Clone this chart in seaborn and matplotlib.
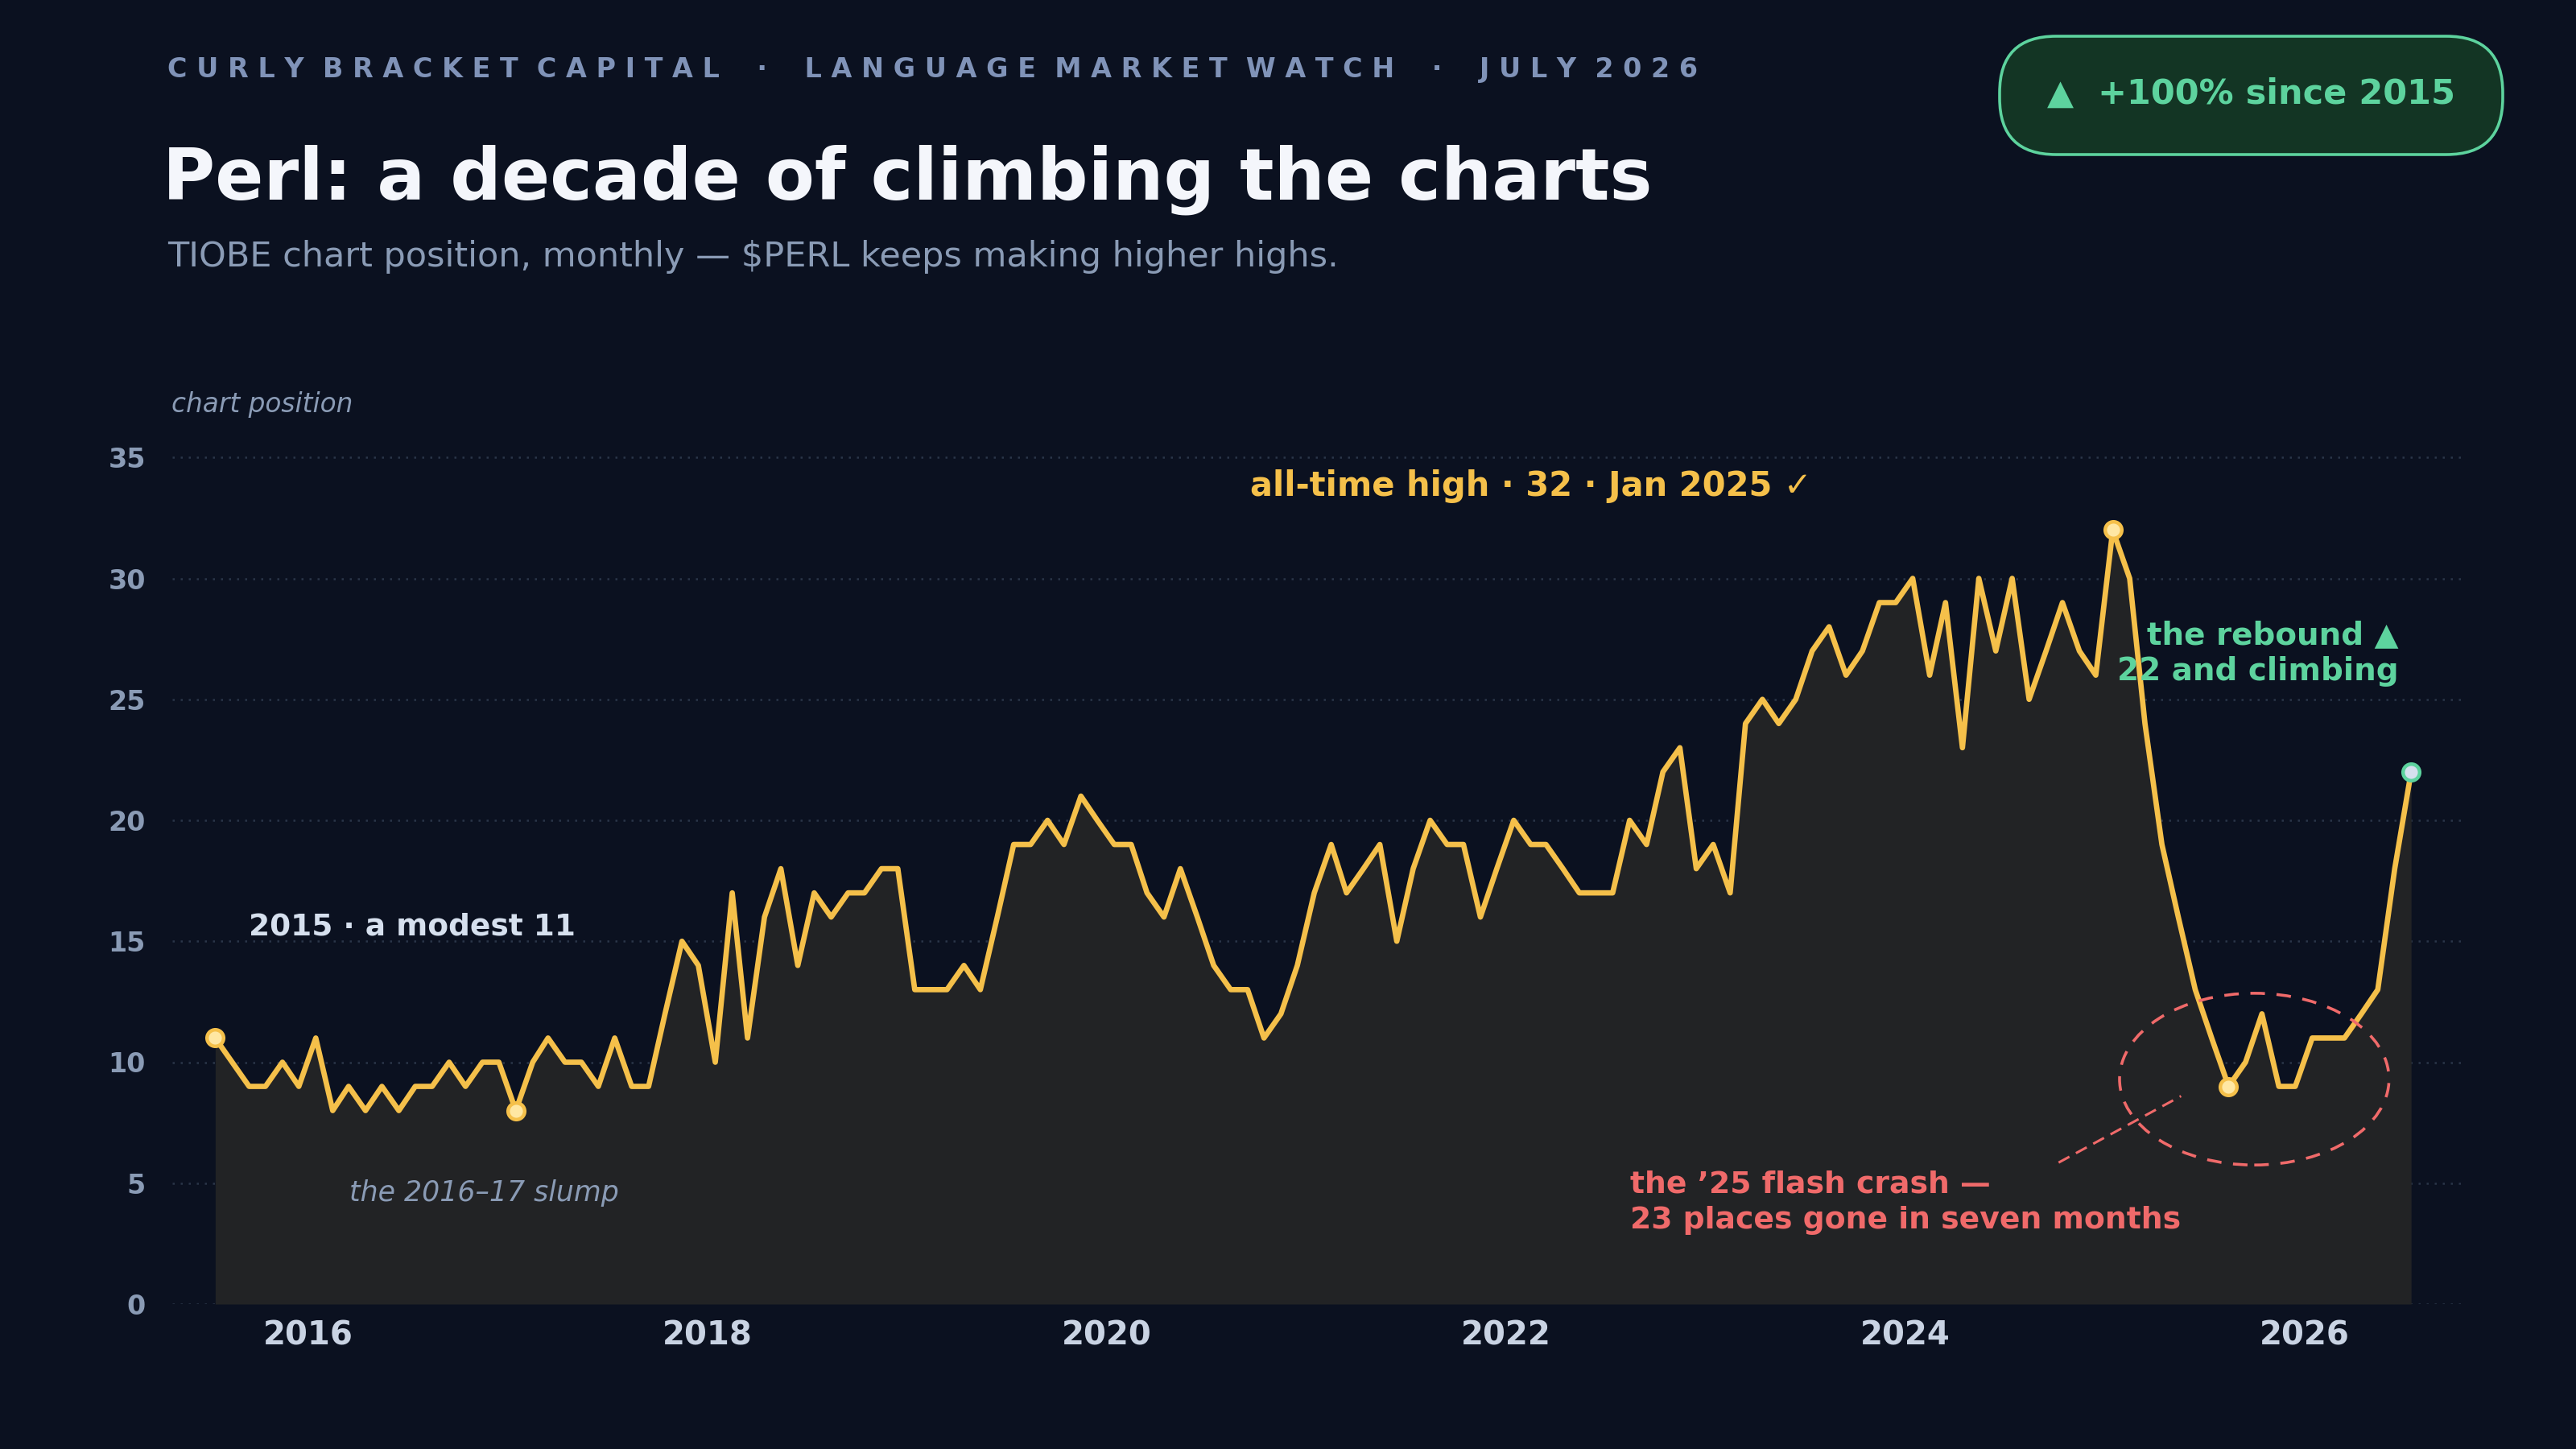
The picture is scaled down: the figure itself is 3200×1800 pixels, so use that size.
import numpy as np
import pandas as pd
import matplotlib
matplotlib.use("Agg")
import matplotlib.pyplot as plt
import matplotlib.dates as mdates
from matplotlib.patches import Ellipse, FancyBboxPatch
import seaborn as sns

positions = [11,10,9,9,10,9,11,8,9,8,9,8,9,9,10,9,10,10,8,10,11,10,10,9,11,9,9,12,15,14,
             10,17,11,16,18,14,17,16,17,17,18,18,
             13,13,13,14,13,16,19,19,20,19,21,20,19,19,17,16,18,16,14,13,13,11,12,14,17,19,17,18,19,15,
             18,20,19,19,16,18,20,19,19,18,17,17,
             17,20,19,22,23,18,19,17,24,25,24,25,27,28,26,27,29,29,30,26,29,23,30,27,30,25,27,29,27,26,
             32,30,24,19,16,13,11,9,10,12,9,9,11,11,11,12,13,18,22]
start_month = "2015-07-01"
months = pd.date_range(start_month, periods=len(positions), freq="MS") + pd.Timedelta(days=14)
df = pd.DataFrame({"month": months, "position": positions})

highlight_idx = [0, 18, 114, 121]
yticks = [0, 5, 10, 15, 20, 25, 30, 35]
xtick_years = [2016, 2018, 2020, 2022, 2024, 2026]

BG = "#0b1120"
GOLD = "#f5c04a"
GREEN = "#5dd39e"
RED = "#f06a6a"
MUTED = "#8a9bb5"

sns.set_theme(style="dark")
plt.rcParams["font.family"] = ["DejaVu Sans"]

fig = plt.figure(figsize=(16, 9), dpi=200, facecolor=BG)
ax = fig.add_axes([0.067, 0.100, 0.890, 0.601])
ax.set_facecolor(BG)

ax.fill_between(df["month"], df["position"], 0, color="#222325", zorder=1, linewidth=0)
sns.lineplot(data=df, x="month", y="position", ax=ax, color=GOLD, linewidth=2.4, zorder=3)

hl = df.iloc[highlight_idx]
ax.scatter(hl["month"], hl["position"], s=55, facecolor="#ffe7a3", edgecolor=GOLD, linewidth=1.6, zorder=5)
ax.scatter(df["month"].iloc[-1:], df["position"].iloc[-1:], s=55, facecolor="#d6e0ee", edgecolor=GREEN, linewidth=1.6, zorder=5)

ax.set_ylim(0, 36)
ax.set_xlim(pd.Timestamp("2015-04-28"), pd.Timestamp("2026-10-22"))
ax.set_yticks(yticks)
ax.set_yticklabels([str(v) for v in yticks], color=MUTED, fontsize=12, fontweight="bold")
ax.set_xticks([pd.Timestamp(f"{y}-01-01") for y in xtick_years])
ax.set_xticklabels([str(y) for y in xtick_years], color="#c9d3e3", fontsize=14.5, fontweight="bold")
ax.tick_params(axis="both", length=0)
ax.tick_params(axis="y", pad=12)
ax.tick_params(axis="x", pad=7)
ax.set_xlabel("")
ax.set_ylabel("")
ax.grid(axis="y", color="#2a3548", linestyle=(0, (1, 3)), linewidth=0.9)
ax.grid(axis="x", visible=False)
for s in ax.spines.values():
    s.set_visible(False)

# Crash ellipse and pointer
cx = mdates.date2num(pd.Timestamp("2025-10-01"))
ax.add_patch(Ellipse((cx, 9.3), width=493, height=7.1, fill=False, edgecolor=RED,
                     linestyle=(0, (5, 4)), linewidth=1.3, zorder=4))
ax.plot([pd.Timestamp("2024-10-08"), pd.Timestamp("2025-05-20")], [5.85, 8.6],
        color=RED, linestyle=(0, (5, 3)), linewidth=1.1, zorder=4)

# annotations
ax.text(pd.Timestamp("2022-02-15"), 33.8, "all-time high · 32 · Jan 2025 ✓", color=GOLD,
        fontsize=15, fontweight="bold", ha="center", va="center")
ax.text(pd.Timestamp("2026-06-22"), 26.9, "the rebound ▲\n22 and climbing", color=GREEN,
        fontsize=14, fontweight="bold", ha="right", va="center", linespacing=1.2)
ax.text(pd.Timestamp("2015-09-15"), 15.6, "2015 · a modest 11", color="#d6e0ee",
        fontsize=13.5, fontweight="bold", ha="left", va="center")
ax.text(pd.Timestamp("2016-03-16"), 4.6, "the 2016–17 slump", color=MUTED,
        fontsize=12.5, fontstyle="italic", ha="left", va="center")
ax.text(pd.Timestamp("2022-08-16"), 4.2, "the ’25 flash crash —\n23 places gone in seven months", color=RED,
        fontsize=13.6, fontweight="bold", ha="left", va="center", linespacing=1.3)

# header texts
header = "CURLY BRACKET CAPITAL  ·  LANGUAGE MARKET WATCH  ·  JULY 2026"
spaced = " ".join(header).replace("   ", "  ")
fig.text(0.065, 0.952, spaced, color="#8093b8", fontsize=12, fontweight="bold", ha="left", va="center")
fig.text(0.063, 0.876, "Perl: a decade of climbing the charts", color="#f4f6fb", fontsize=32,
         fontweight="bold", ha="left", va="center")
fig.text(0.065, 0.823, "TIOBE chart position, monthly — $PERL keeps making higher highs.", color=MUTED,
         fontsize=15.5, ha="left", va="center")
fig.text(0.0665, 0.721, "chart position", color=MUTED, fontsize=11.8, fontstyle="italic", ha="left", va="center")

badge = FancyBboxPatch((2484, 1608), 625, 147, boxstyle="round,pad=0,rounding_size=70",
                       transform=None, facecolor="#133524", edgecolor=GREEN, linewidth=1.3)
fig.patches.append(badge)
fig.text(0.874, 0.935, "▲  +100% since 2015", color=GREEN, fontsize=15.5, fontweight="bold",
         ha="center", va="center")

fig.savefig("out.png", dpi=200, facecolor=BG)
